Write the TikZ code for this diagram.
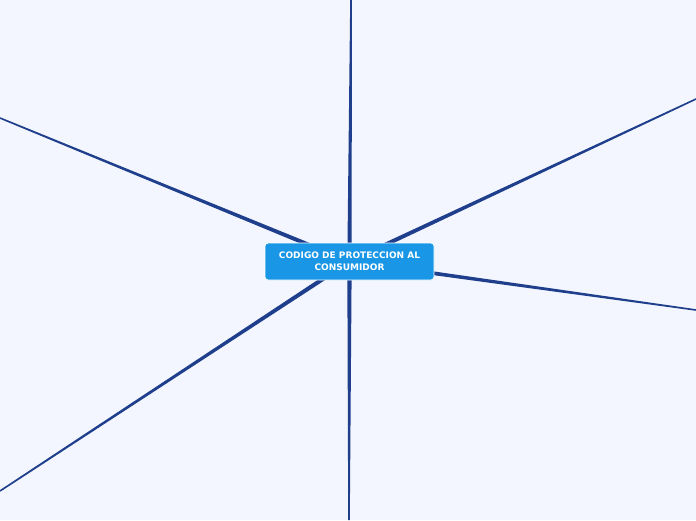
\documentclass[tikz,border=0pt]{standalone}
\usepackage{fontspec}
\setmainfont{DejaVu Sans}
\usepackage{tikz}
\usetikzlibrary{calc}
\definecolor{pagebg}{HTML}{F3F6FE}
\definecolor{branchblue}{HTML}{1F3F8C}
\definecolor{topicblue}{HTML}{1A96E6}
\tikzset{
  topic/.style={draw=white, line width=0.8pt, fill=topicblue, rounded corners=3pt,
    minimum width=169pt, minimum height=37pt, align=center, text=white,
    font=\fontsize{9}{12}\selectfont\bfseries, inner sep=0pt},
}

\begin{document}
\begin{tikzpicture}[x=1pt,y=-1pt]
\fill[pagebg] (0,0) rectangle (696,520);
\useasboundingbox (0,0) rectangle (696,520);
% free ends of the branches
\coordinate (top) at (351,0);
\coordinate (upleft) at (0,118);
\coordinate (upright) at (696,99);
\coordinate (right) at (696,310);
\coordinate (lowleft) at (0,491);
\coordinate (bottom) at (349,520);
\coordinate (c) at (349.5,261.5);
% tapered branches
\foreach \e in {top,upleft,upright,right,lowleft,bottom}
  \fill[branchblue] ($(c)!2.2pt!90:(\e)$) -- ($(\e)!0.8pt!-90:(c)$)
    -- ($(\e)!0.8pt!90:(c)$) -- ($(c)!2.2pt!-90:(\e)$) -- cycle;
\node[topic] (code) at (c) {\raisebox{-1pt}{CODIGO DE PROTECCION AL}\\\raisebox{-1pt}{CONSUMIDOR}};
\end{tikzpicture}
\end{document}
